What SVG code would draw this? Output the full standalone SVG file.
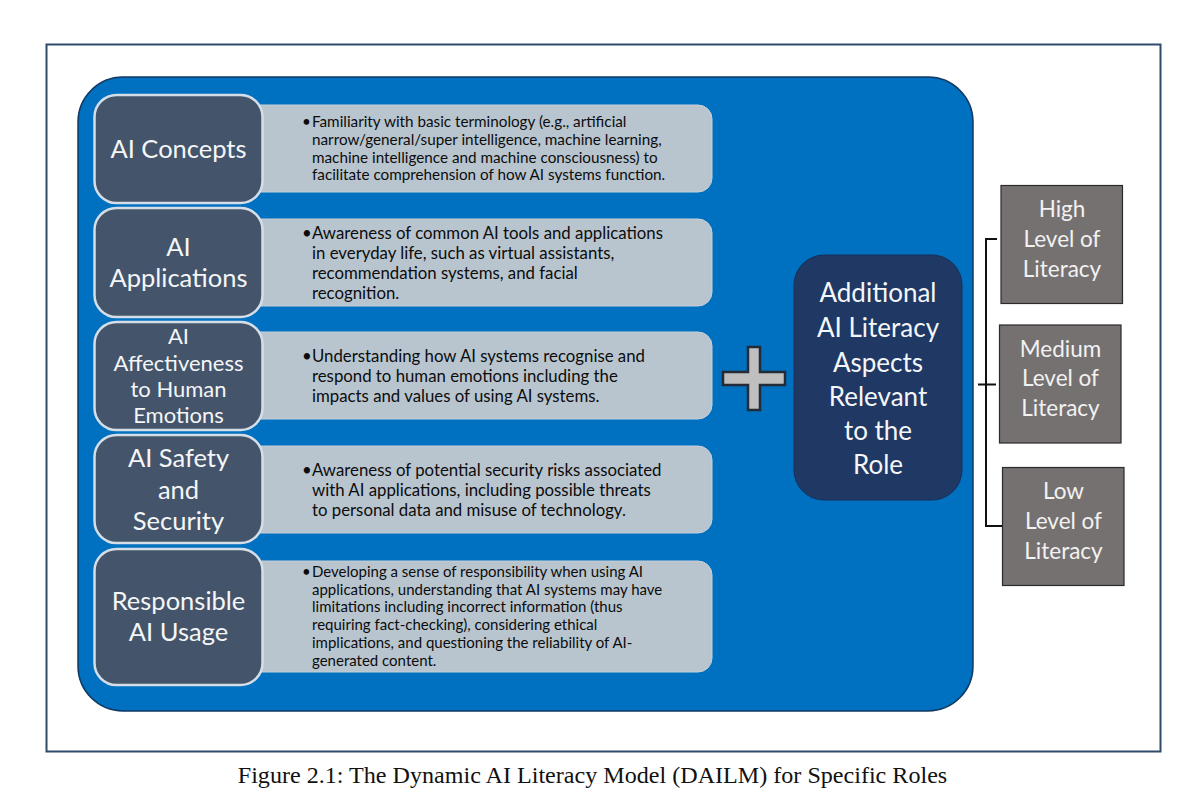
<svg xmlns="http://www.w3.org/2000/svg" width="1200" height="797" viewBox="0 0 1200 797">
<style>
text{font-family:"Lato","Open Sans","Liberation Sans",sans-serif}
.t{fill:#f4f6f8;font-size:25.500px;text-anchor:middle}
.b{fill:#0c0c0c;font-size:16.800px}
.n{fill:#44546a;stroke:#d5dde6;stroke-width:2.500}
.d{fill:#b8c5cf;stroke:#c6d0d8;stroke-width:1}
.g{fill:#767171;stroke:#2b2b2b;stroke-width:1.200}
.gt{fill:#f2f2f2;font-size:22.500px;text-anchor:middle}
.a{fill:#f4f6f8;font-size:26px;text-anchor:middle}
.c{fill:none;stroke:#111;stroke-width:2}
</style>
<rect width="1200" height="797" fill="#fff"/>
<rect id="frame" x="46.500" y="44.500" width="1114" height="707" fill="#fff" stroke="#2f4a6a" stroke-width="2"/>
<rect id="panel" x="78" y="77" width="895" height="634" rx="45" fill="#0070c0" stroke="#123a63" stroke-width="1.500"/>
<g id="row1"><rect class="d" x="240" y="105" width="472" height="87" rx="14"/><rect class="n" x="94.500" y="95" width="168" height="108" rx="22"/><text class="t" x="178.500" y="158">AI Concepts</text>
<text class="b" style="font-size:15.250px"><tspan x="302" y="127">•</tspan><tspan x="312" y="127">Familiarity with basic terminology (e.g., artificial</tspan><tspan x="312" y="145">narrow/general/super intelligence, machine learning,</tspan><tspan x="312" y="163">machine intelligence and machine consciousness) to</tspan><tspan x="312" y="180">facilitate comprehension of how AI systems function.</tspan></text></g>
<g id="row2"><rect class="d" x="240" y="219" width="472" height="87" rx="14"/><rect class="n" x="94.500" y="208" width="168" height="109" rx="22"/><text class="t" x="178.500" y="256">AI</text><text class="t" x="178.500" y="287">Applications</text>
<text class="b"><tspan x="302" y="239">•</tspan><tspan x="312" y="239">Awareness of common AI tools and applications</tspan><tspan x="312" y="259">in everyday life, such as virtual assistants,</tspan><tspan x="312" y="279">recommendation systems, and facial</tspan><tspan x="312" y="299">recognition.</tspan></text></g>
<g id="row3"><rect class="d" x="240" y="332" width="472" height="87" rx="14"/><rect class="n" x="94.500" y="322" width="168" height="108" rx="22"/><text class="t" style="font-size:22px" x="178.500" y="344">AI</text><text class="t" style="font-size:22px" x="178.500" y="371">Affectiveness</text><text class="t" style="font-size:22px" x="178.500" y="397">to Human</text><text class="t" style="font-size:22px" x="178.500" y="423">Emotions</text>
<text class="b"><tspan x="302" y="362">•</tspan><tspan x="312" y="362">Understanding how AI systems recognise and</tspan><tspan x="312" y="382">respond to human emotions including the</tspan><tspan x="312" y="402">impacts and values of using AI systems.</tspan></text></g>
<g id="row4"><rect class="d" x="240" y="446" width="472" height="87" rx="14"/><rect class="n" x="94.500" y="435" width="168" height="108" rx="22"/><text class="t" x="178.500" y="467">AI Safety</text><text class="t" x="178.500" y="499">and</text><text class="t" x="178.500" y="530">Security</text>
<text class="b"><tspan x="302" y="476">•</tspan><tspan x="312" y="476">Awareness of potential security risks associated</tspan><tspan x="312" y="496">with AI applications, including possible threats</tspan><tspan x="312" y="516">to personal data and misuse of technology.</tspan></text></g>
<g id="row5"><rect class="d" x="240" y="561" width="472" height="111" rx="14"/><rect class="n" x="94.500" y="549" width="168" height="136" rx="22"/><text class="t" x="178.500" y="610">Responsible</text><text class="t" x="178.500" y="641">AI Usage</text>
<text class="b" style="font-size:15px"><tspan x="302" y="577">•</tspan><tspan x="312" y="577">Developing a sense of responsibility when using AI</tspan><tspan x="312" y="595">applications, understanding that AI systems may have</tspan><tspan x="312" y="612">limitations including incorrect information (thus</tspan><tspan x="312" y="630">requiring fact-checking), considering ethical</tspan><tspan x="312" y="648">implications, and questioning the reliability of AI-</tspan><tspan x="312" y="666">generated content.</tspan></text></g>
<path id="plus" d="M748 347H760V372H785V385H760V410H748V385H723V372H748Z" fill="#bfbfbf" stroke="#222b36" stroke-width="2.500"/>
<g id="additional"><rect x="794" y="255" width="168" height="245" rx="30" fill="#1f3864" stroke="#16305a" stroke-width="1"/>
<text class="a" x="878" y="302">Additional</text><text class="a" x="878" y="337">AI Literacy</text><text class="a" x="878" y="372">Aspects</text><text class="a" x="878" y="406">Relevant</text><text class="a" x="878" y="440">to the</text><text class="a" x="878" y="474">Role</text></g>
<g id="connectors"><path class="c" d="M997 239H986V526H1002"/><path class="c" d="M978 384.500H996"/></g>
<g id="high"><rect class="g" x="1001" y="185.500" width="121.500" height="118"/><text class="gt" x="1062" y="217">High</text><text class="gt" x="1062" y="247">Level of</text><text class="gt" x="1062" y="277">Literacy</text></g>
<g id="medium"><rect class="g" x="999.500" y="325" width="121.500" height="118"/><text class="gt" x="1060.500" y="357">Medium</text><text class="gt" x="1060.500" y="386">Level of</text><text class="gt" x="1060.500" y="416">Literacy</text></g>
<g id="low"><rect class="g" x="1002.500" y="467.500" width="121.500" height="118"/><text class="gt" x="1063.500" y="499">Low</text><text class="gt" x="1063.500" y="529">Level of</text><text class="gt" x="1063.500" y="559">Literacy</text></g>
<text id="caption" x="592.500" y="783" text-anchor="middle" style="font-family:'Liberation Serif',serif;font-size:24.100px;fill:#111">Figure 2.1: The Dynamic AI Literacy Model (DAILM) for Specific Roles</text>
</svg>
